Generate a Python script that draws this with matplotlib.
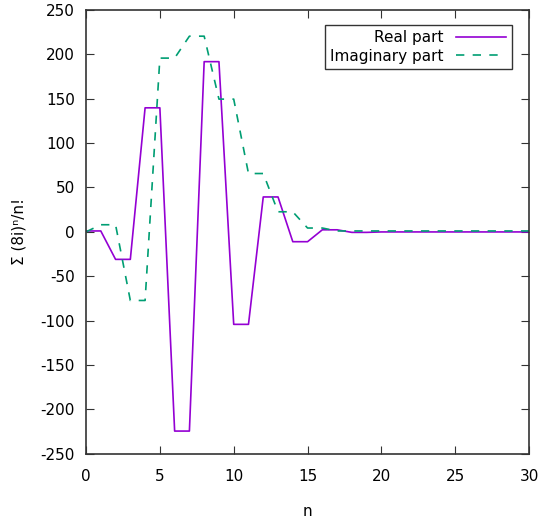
import matplotlib.pyplot as plt
from matplotlib.lines import Line2D

# partial sums of (8i)^n/n!
n = list(range(31))
real_part = [1, 1, -31, -31, 139.7, 139.7, -224.4, -224.4, 191.7, 191.7,
             -104.2, -104.2, 39.3, 39.3, -11.1, -11.1, 2.3, 2.3, -0.6, -0.6,
             -0.1, -0.1, -0.1, -0.1, -0.1, -0.1, -0.1, -0.1, -0.1, -0.1, -0.1]
imag_part = [0, 8, 8, -77.3, -77.3, 195.7, 195.7, 220.4, 220.4, 149.5,
             149.5, 65.7, 65.7, 22.6, 22.6, 4.3, 4.3, 1.0, 1.0, 1.0,
             1.0, 1.0, 1.0, 1.0, 1.0, 1.0, 1.0, 1.0, 1.0, 1.0, 1.0]
xticks = [0, 5, 10, 15, 20, 25, 30]
yticks = [-250, -200, -150, -100, -50, 0, 50, 100, 150, 200, 250]

plt.rcParams['font.family'] = ['DejaVu Sans']
plt.rcParams['axes.unicode_minus'] = False
fig = plt.figure(figsize=(5.41, 5.21), dpi=100)
ax = fig.add_axes([0.159, 0.129, 0.819, 0.852])

ax.plot(n, real_part, color='#9400d3', lw=1.2)
ax.plot(n, imag_part, color='#009e73', lw=1.2, dashes=(5, 5))

ax.set_xlim(0, 30)
ax.set_ylim(-250, 250)
ax.set_xticks(xticks)
ax.set_yticks(yticks)
ax.tick_params(direction='in', top=True, right=True, length=6, labelsize=11,
               color='#333333')
ax.tick_params(axis='x', pad=11)
ax.tick_params(axis='y', pad=8)
for s in ax.spines.values():
    s.set_color('#333333')
    s.set_linewidth(1.2)
ax.set_xlabel('n', fontsize=11, labelpad=14)
ax.set_ylabel('Σ (8i)ⁿ/n!', fontsize=11, labelpad=10)

handles = [Line2D([], [], color='#9400d3', lw=1.2),
           Line2D([], [], color='#009e73', lw=1.2, dashes=(5, 5))]
leg = ax.legend(handles, ['Real part', 'Imaginary part'], loc='upper right',
                bbox_to_anchor=(0.978, 0.984), markerfirst=False, fontsize=11,
                fancybox=False, framealpha=1, edgecolor='#333333',
                handlelength=3.3, borderpad=0.35, labelspacing=0.25,
                handletextpad=0.8)
leg.get_frame().set_linewidth(1.0)

fig.savefig('out.png', dpi=100)
